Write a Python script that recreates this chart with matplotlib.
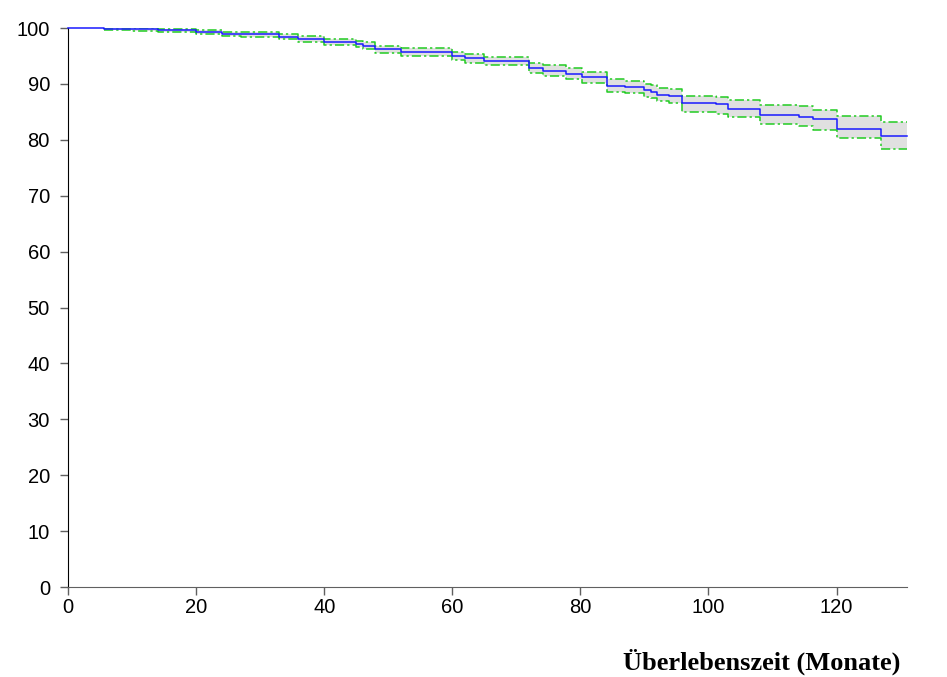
import numpy as np
import matplotlib.pyplot as plt

# Kaplan-Meier Schaetzung mit 95%-Konfidenzband
zeit = [0, 5.6, 10.0, 14.0, 20.0, 24.0, 27.0, 33.0, 35.9, 40.0, 45.0, 46.1, 48.0,
        52.0, 60.0, 62.0, 65.0, 71.9, 74.1, 77.8, 80.2, 84.1, 86.9, 90.0, 91.1,
        92.0, 93.9, 95.9, 101.1, 103.0, 108.1, 114.1, 116.3, 120.0, 127.0]
ueberleben = [100, 99.9, 99.75, 99.6, 99.3, 99.0, 98.85, 98.45, 98.0, 97.55, 97.15,
              96.85, 96.2, 95.65, 95.05, 94.6, 94.1, 92.9, 92.35, 91.8, 91.2, 89.7,
              89.4, 88.9, 88.6, 88.1, 87.8, 86.6, 86.35, 85.45, 84.4, 84.15, 83.65,
              81.95, 80.75]
unten = [100, 99.7, 99.5, 99.3, 98.9, 98.6, 98.45, 98.0, 97.5, 97.0, 96.6, 96.25,
         95.55, 94.95, 94.3, 93.8, 93.3, 92.0, 91.4, 90.8, 90.2, 88.6, 88.3, 87.75,
         87.4, 86.9, 86.55, 85.0, 84.7, 84.1, 82.9, 82.5, 81.75, 80.3, 78.4]
oben = [100, 100.0, 99.95, 99.85, 99.6, 99.35, 99.25, 98.9, 98.5, 98.1, 97.7, 97.45,
        96.85, 96.35, 95.8, 95.4, 94.9, 93.8, 93.3, 92.8, 92.2, 90.8, 90.5, 90.05,
        89.8, 89.3, 89.05, 87.9, 87.6, 87.2, 86.2, 86.1, 85.3, 84.3, 83.1]
t_ende = 131

x = np.array(zeit + [t_ende])
s = np.array(ueberleben + [ueberleben[-1]])
lo = np.array(unten + [unten[-1]])
hi = np.array(oben + [oben[-1]])

fig = plt.figure(figsize=(9.47, 6.77), dpi=100)
ax = fig.add_axes([0.0718, 0.1329, 0.8860, 0.8257])

ax.fill_between(x[1:], lo[1:], hi[1:], step='post', color='#e0e0e0', lw=0)
ax.step(x[1:], lo[1:], where='post', color='#22cc22', lw=1.1, dashes=(6, 2, 1.5, 2))
ax.step(x[1:], hi[1:], where='post', color='#22cc22', lw=1.1, dashes=(6, 2, 1.5, 2))
ax.step(x, s, where='post', color='#1a1aff', lw=1.1, clip_on=False, zorder=5)

ax.set_xlim(0, t_ende)
ax.set_ylim(0, 100)
ax.set_xticks(np.arange(0, 121, 20))
ax.set_yticks(np.arange(0, 101, 10))

for side in ['top', 'right']:
    ax.spines[side].set_visible(False)
ax.spines['left'].set_color('black')
ax.spines['bottom'].set_color('#606060')

ax.tick_params(axis='y', direction='out', length=6, width=1, color='#606060',
               pad=7, labelsize=14.5)
ax.tick_params(axis='x', direction='out', length=6, width=1, color='#606060',
               pad=2, labelsize=14.5)
for lab in ax.get_xticklabels() + ax.get_yticklabels():
    lab.set_fontfamily('Liberation Sans')

fig.text(0.951, 0.0103, 'Überlebenszeit (Monate)', ha='right', va='baseline',
         fontsize=19, fontweight='bold', family='Liberation Serif')

fig.savefig('out.png', dpi=100)
